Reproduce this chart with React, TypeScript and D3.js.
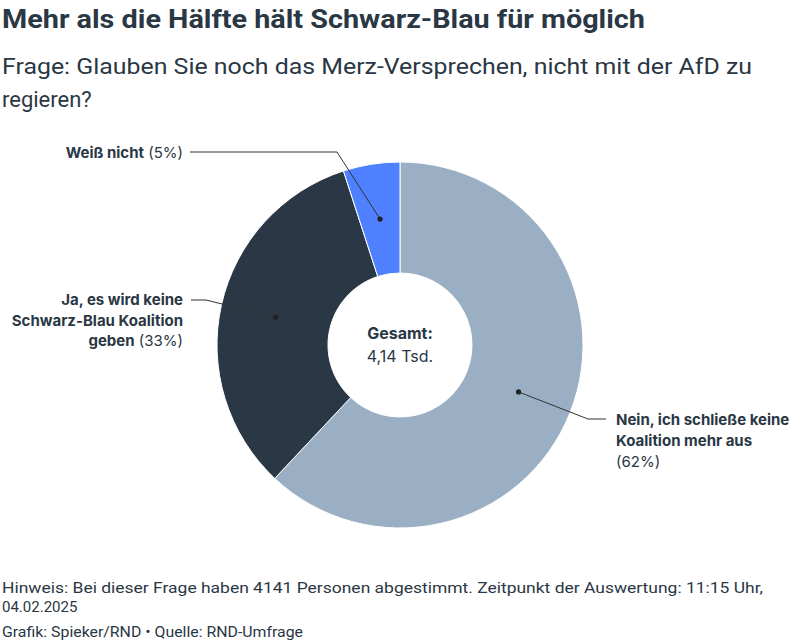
import * as d3 from "d3";
import { useEffect } from "react";

const categories = ["Nein", "Ja", "Weiß nicht"];
const values = [62, 33, 5];
const colors = ["#9aafc3", "#2a3744", "#4f80ff"];
const labelBold = [
  ["Nein, ich schließe keine", "Koalition mehr aus"],
  ["Ja, es wird keine", "Schwarz-Blau Koalition", "geben"],
  ["Weiß nicht"],
];
const total = "4,14 Tsd.";

const W = 800;
const H = 642;
const cx = 400;
const cy = 345;
const outerR = 183;
const innerR = 72;
const textColor = "#2a3744";
const font = "Inter, 'Noto Sans', sans-serif";

export default function App() {
  useEffect(() => {
    document.body.style.margin = "0";
  }, []);

  const pie = d3.pie<number>().sort(null).value((d) => d);
  const arcs = pie(values);
  const arc = d3.arc<d3.PieArcDatum<number>>().innerRadius(innerR).outerRadius(outerR);
  const mid = d3.arc<d3.PieArcDatum<number>>().innerRadius((innerR + outerR) / 2).outerRadius((innerR + outerR) / 2);

  const pct = (i: number) => `(${values[i]}%)`;

  // leader lines: [label end, elbow], dot comes from centroid
  const leaders: [number, number][][] = [
    [[606, 419], [588, 419]],
    [[191, 300], [206, 300]],
    [[190, 152], [337, 152]],
  ];

  return (
    <svg width={W} height={H} style={{ display: "block", background: "#fff" }}>
      <text x={2} y={28} fontFamily="Roboto, sans-serif" fontWeight={700} fontSize={26} fill={textColor}
        textLength={643} lengthAdjust="spacingAndGlyphs">
        Mehr als die Hälfte hält Schwarz-Blau für möglich
      </text>
      <text x={2} y={74} fontFamily="Roboto, sans-serif" fontSize={22} fill={textColor}
        textLength={750} lengthAdjust="spacingAndGlyphs">
        Frage: Glauben Sie noch das Merz-Versprechen, nicht mit der AfD zu
      </text>
      <text x={2} y={107} fontFamily="Roboto, sans-serif" fontSize={22} fill={textColor}>
        regieren?
      </text>

      <g transform={`translate(${cx},${cy})`}>
        {arcs.map((a, i) => (
          <path key={categories[i]} d={arc(a) || ""} fill={colors[i]} stroke="#fff" strokeWidth={1} />
        ))}
      </g>

      {arcs.map((a, i) => {
        const [dx, dy] = mid.centroid(a);
        const px = cx + dx;
        const py = cy + dy;
        const pts = [...leaders[i], [px, py]];
        return (
          <g key={"l" + i}>
            <polyline points={pts.map((p) => p.join(",")).join(" ")} fill="none" stroke="#333" strokeWidth={1} />
            <circle cx={px} cy={py} r={2.6} fill="#222" />
          </g>
        );
      })}

      {/* Nein label */}
      <text x={616} y={425} fontFamily={font} fontSize={15} fill={textColor}>
        <tspan x={616} fontWeight={700}>{labelBold[0][0]}</tspan>
        <tspan x={616} dy={21} fontWeight={700}>{labelBold[0][1]}</tspan>
        <tspan x={616} dy={21}>{pct(0)}</tspan>
      </text>

      {/* Ja label */}
      <text y={305} fontFamily={font} fontSize={15} fill={textColor} textAnchor="end">
        <tspan x={183} fontWeight={700}>{labelBold[1][0]}</tspan>
        <tspan x={183} dy={20.5} fontWeight={700}>{labelBold[1][1]}</tspan>
        <tspan x={183} dy={20.5}>
          <tspan fontWeight={700}>{labelBold[1][2]}</tspan> {pct(1)}
        </tspan>
      </text>

      {/* Weiß nicht label */}
      <text x={183} y={158} fontFamily={font} fontSize={15} fill={textColor} textAnchor="end">
        <tspan fontWeight={700}>{labelBold[2][0]}</tspan> {pct(2)}
      </text>

      <text x={cx} y={339} fontFamily={font} fontSize={16} fontWeight={700} fill={textColor} textAnchor="middle">
        Gesamt:
      </text>
      <text x={cx} y={362} fontFamily={font} fontSize={16} fill={textColor} textAnchor="middle">
        {total}
      </text>

      <text x={2} y={593} fontFamily="Roboto, sans-serif" fontSize={15} fill={textColor}
        textLength={761} lengthAdjust="spacingAndGlyphs">
        Hinweis: Bei dieser Frage haben 4141 Personen abgestimmt. Zeitpunkt der Auswertung: 11:15 Uhr,
      </text>
      <text x={2} y={612} fontFamily="Roboto, sans-serif" fontSize={15} fill={textColor}>
        04.02.2025
      </text>
      <text x={2} y={637} fontFamily="Roboto, sans-serif" fontSize={14} fill={textColor}
        textLength={301} lengthAdjust="spacingAndGlyphs">
        Grafik: Spieker/RND • Quelle: RND-Umfrage
      </text>
    </svg>
  );
}
